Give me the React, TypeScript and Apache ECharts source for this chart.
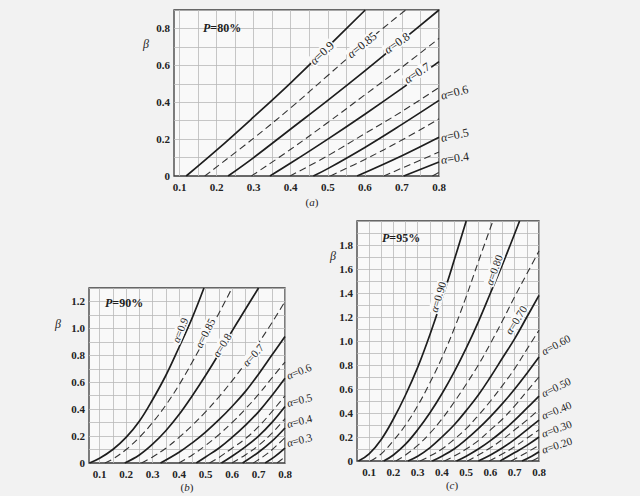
import React, { useEffect, useRef } from "react";
import * as echarts from "echarts";

// ---------- tick / grid values ----------
const xTickLabels = [0.1, 0.2, 0.3, 0.4, 0.5, 0.6, 0.7, 0.8];
const xGridValues = [0.1, 0.15, 0.2, 0.25, 0.3, 0.35, 0.4, 0.45, 0.5, 0.55, 0.6, 0.65, 0.7, 0.75, 0.8];
const yTickLabelsA = [0, 0.2, 0.4, 0.6, 0.8];
const yGridA = [0.1, 0.2, 0.3, 0.4, 0.5, 0.6, 0.7, 0.8, 0.9];
const yTickLabelsB = [0, 0.2, 0.4, 0.6, 0.8, 1.0, 1.2];
const yGridB = [0.1, 0.2, 0.3, 0.4, 0.5, 0.6, 0.7, 0.8, 0.9, 1.0, 1.1, 1.2, 1.3];
const yTickLabelsC = [0, 0.2, 0.4, 0.6, 0.8, 1.0, 1.2, 1.4, 1.6, 1.8];
const yGridC = [0.1, 0.2, 0.3, 0.4, 0.5, 0.6, 0.7, 0.8, 0.9, 1.0, 1.1, 1.2, 1.3, 1.4, 1.5, 1.6, 1.7, 1.8, 1.9, 2.0];

// ---------- (a) P = 80% ----------
const alphasA = [0.9, 0.85, 0.8, 0.75, 0.7, 0.65, 0.6, 0.55, 0.5, 0.45, 0.4, 0.35];
const curvesA = [
  [[0.118, 0], [0.2, 0.14], [0.3, 0.32], [0.4, 0.505], [0.5, 0.7], [0.601, 0.9]],
  [[0.168, 0], [0.3, 0.205], [0.4, 0.37], [0.5, 0.545], [0.6, 0.72], [0.71, 0.9]],
  [[0.231, 0], [0.3, 0.1], [0.4, 0.255], [0.5, 0.41], [0.6, 0.57], [0.7, 0.735], [0.8, 0.9]],
  [[0.294, 0], [0.4, 0.145], [0.5, 0.29], [0.6, 0.44], [0.7, 0.59], [0.8, 0.746]],
  [[0.344, 0], [0.4, 0.07], [0.5, 0.2], [0.6, 0.335], [0.7, 0.475], [0.8, 0.62]],
  [[0.398, 0], [0.5, 0.11], [0.6, 0.23], [0.7, 0.35], [0.8, 0.48]],
  [[0.461, 0], [0.5, 0.04], [0.6, 0.155], [0.7, 0.28], [0.8, 0.41]],
  [[0.507, 0], [0.6, 0.09], [0.7, 0.195], [0.8, 0.31]],
  [[0.579, 0], [0.7, 0.11], [0.8, 0.21]],
  [[0.651, 0], [0.72, 0.06], [0.8, 0.13]],
  [[0.705, 0], [0.8, 0.076]],
  [[0.782, 0], [0.8, 0.02]],
];

// ---------- (b) P = 90% ----------
const alphasB = [0.9, 0.85, 0.8, 0.75, 0.7, 0.65, 0.6, 0.55, 0.5, 0.45, 0.4, 0.35, 0.3, 0.25];
const curvesB = [
  [[0.062, 0], [0.1, 0.035], [0.15, 0.1], [0.2, 0.19], [0.25, 0.31], [0.3, 0.47], [0.35, 0.65], [0.4, 0.86], [0.45, 1.08], [0.494, 1.3]],
  [[0.12, 0], [0.15, 0.03], [0.2, 0.1], [0.25, 0.19], [0.3, 0.3], [0.35, 0.43], [0.4, 0.58], [0.45, 0.75], [0.5, 0.93], [0.55, 1.11], [0.6, 1.3]],
  [[0.195, 0], [0.25, 0.06], [0.3, 0.14], [0.35, 0.24], [0.4, 0.36], [0.45, 0.5], [0.5, 0.65], [0.55, 0.81], [0.6, 0.98], [0.65, 1.14], [0.7, 1.3]],
  [[0.258, 0], [0.3, 0.045], [0.35, 0.11], [0.4, 0.19], [0.45, 0.28], [0.5, 0.38], [0.55, 0.49], [0.6, 0.61], [0.65, 0.74], [0.7, 0.89], [0.75, 1.04], [0.8, 1.2]],
  [[0.33, 0], [0.4, 0.08], [0.45, 0.15], [0.5, 0.23], [0.55, 0.32], [0.6, 0.42], [0.65, 0.53], [0.7, 0.66], [0.75, 0.8], [0.8, 0.94]],
  [[0.4, 0], [0.45, 0.06], [0.5, 0.13], [0.55, 0.21], [0.6, 0.3], [0.65, 0.4], [0.7, 0.51], [0.75, 0.63], [0.8, 0.75]],
  [[0.465, 0], [0.5, 0.045], [0.55, 0.11], [0.6, 0.19], [0.65, 0.28], [0.7, 0.38], [0.75, 0.5], [0.8, 0.63]],
  [[0.515, 0], [0.55, 0.04], [0.6, 0.11], [0.65, 0.18], [0.7, 0.27], [0.75, 0.38], [0.8, 0.5]],
  [[0.56, 0], [0.6, 0.05], [0.65, 0.12], [0.7, 0.2], [0.75, 0.3], [0.8, 0.42]],
  [[0.6, 0], [0.65, 0.06], [0.7, 0.13], [0.75, 0.22], [0.8, 0.33]],
  [[0.64, 0], [0.7, 0.08], [0.75, 0.16], [0.8, 0.26]],
  [[0.68, 0], [0.74, 0.08], [0.8, 0.19]],
  [[0.725, 0], [0.76, 0.045], [0.8, 0.11]],
  [[0.77, 0], [0.8, 0.045]],
];

// ---------- (c) P = 95% ----------
const alphasC = [0.9, 0.85, 0.8, 0.75, 0.7, 0.65, 0.6, 0.55, 0.5, 0.45, 0.4, 0.35, 0.3, 0.25, 0.2, 0.15];
const curvesC = [
  [[0.056, 0], [0.1, 0.06], [0.15, 0.18], [0.2, 0.35], [0.25, 0.55], [0.3, 0.78], [0.35, 1.05], [0.4, 1.35], [0.45, 1.67], [0.5, 2.0]],
  [[0.105, 0], [0.15, 0.06], [0.2, 0.17], [0.25, 0.3], [0.3, 0.46], [0.35, 0.65], [0.4, 0.86], [0.45, 1.1], [0.5, 1.37], [0.55, 1.66], [0.61, 2.0]],
  [[0.16, 0], [0.2, 0.05], [0.25, 0.14], [0.3, 0.26], [0.35, 0.4], [0.4, 0.56], [0.45, 0.74], [0.5, 0.94], [0.55, 1.16], [0.6, 1.4], [0.65, 1.64], [0.72, 2.0]],
  [[0.21, 0], [0.25, 0.05], [0.3, 0.13], [0.35, 0.23], [0.4, 0.35], [0.45, 0.49], [0.5, 0.64], [0.55, 0.8], [0.6, 0.98], [0.65, 1.17], [0.7, 1.37], [0.75, 1.56], [0.8, 1.75]],
  [[0.26, 0], [0.3, 0.04], [0.35, 0.11], [0.4, 0.2], [0.45, 0.3], [0.5, 0.42], [0.55, 0.55], [0.6, 0.7], [0.65, 0.86], [0.7, 1.02], [0.75, 1.2], [0.8, 1.38]],
  [[0.31, 0], [0.35, 0.04], [0.4, 0.1], [0.45, 0.18], [0.5, 0.27], [0.55, 0.38], [0.6, 0.5], [0.65, 0.63], [0.7, 0.77], [0.75, 0.93], [0.8, 1.09]],
  [[0.36, 0], [0.4, 0.04], [0.45, 0.1], [0.5, 0.18], [0.55, 0.27], [0.6, 0.37], [0.65, 0.48], [0.7, 0.6], [0.75, 0.73], [0.8, 0.866]],
  [[0.41, 0], [0.45, 0.04], [0.5, 0.1], [0.55, 0.17], [0.6, 0.26], [0.65, 0.35], [0.7, 0.46], [0.75, 0.58], [0.8, 0.7]],
  [[0.46, 0], [0.5, 0.04], [0.55, 0.1], [0.6, 0.17], [0.65, 0.25], [0.7, 0.34], [0.75, 0.44], [0.8, 0.54]],
  [[0.505, 0], [0.55, 0.05], [0.6, 0.11], [0.65, 0.18], [0.7, 0.26], [0.75, 0.34], [0.8, 0.43]],
  [[0.55, 0], [0.6, 0.05], [0.65, 0.11], [0.7, 0.18], [0.75, 0.26], [0.8, 0.34]],
  [[0.595, 0], [0.65, 0.06], [0.7, 0.12], [0.75, 0.19], [0.8, 0.26]],
  [[0.64, 0], [0.7, 0.07], [0.75, 0.13], [0.8, 0.2]],
  [[0.685, 0], [0.74, 0.06], [0.8, 0.13]],
  [[0.73, 0], [0.77, 0.04], [0.8, 0.077]],
  [[0.77, 0], [0.8, 0.03]],
];

const SERIF = '"Liberation Serif", "DejaVu Serif", "Times New Roman", serif';
const INK = "#1e1e1e";
const PLOT_BG = "#f9f9f9";

const charts = [
  { alphas: alphasA, curves: curvesA, xMin: 0.085, yMax: 0.9, yLabels: yTickLabelsA, yGrid: yGridA,
    grid: { left: 174, top: 10, width: 265, height: 166 } },
  { alphas: alphasB, curves: curvesB, xMin: 0.06, yMax: 1.3, yLabels: yTickLabelsB, yGrid: yGridB,
    grid: { left: 89, top: 288, width: 196, height: 175 } },
  { alphas: alphasC, curves: curvesC, xMin: 0.05, yMax: 2.0, yLabels: yTickLabelsC, yGrid: yGridC,
    grid: { left: 357, top: 221, width: 182, height: 240 } },
];

const fmt = (v: number) => (v === 0 ? "0" : v.toFixed(1));

function alphaText(a: number, digits: number) {
  return "{i|α}=" + a.toFixed(digits);
}

function textEl(x: number, y: number, text: string, size: number, rotDeg: number, align: string, bg?: string, weight = "normal") {
  return {
    type: "text",
    x, y,
    rotation: (rotDeg * Math.PI) / 180,
    z: 100,
    silent: true,
    style: {
      text,
      fontFamily: SERIF,
      fontSize: size,
      fontWeight: weight,
      fill: INK,
      align,
      verticalAlign: "middle",
      backgroundColor: bg,
      padding: bg ? [0, 1] : 0,
      rich: {
        i: { fontFamily: SERIF, fontSize: size, fontStyle: "italic", fontWeight: weight, fill: INK },
      },
    },
  };
}

export default function App() {
  const ref = useRef<HTMLDivElement>(null);
  useEffect(() => {
    if (!ref.current) return;
    const chart = echarts.init(ref.current, undefined, { renderer: "svg" });

    const grids = charts.map((c) => ({
      ...c.grid,
      show: true,
      backgroundColor: PLOT_BG,
      borderColor: "#3a3a3a",
      borderWidth: 1.3,
      containLabel: false,
    }));

    const labelStyle = { fontFamily: SERIF, fontSize: 11, fontWeight: "bold", color: "#222" };

    const xAxes = charts.map((c, k) => ({
      type: "value",
      gridIndex: k,
      min: c.xMin,
      max: 0.8,
      axisLine: { show: false },
      axisTick: { show: false, customValues: xGridValues },
      axisLabel: { ...labelStyle, customValues: xTickLabels, formatter: fmt, margin: 5 },
      splitLine: { show: true, lineStyle: { color: "#b9b9b9", width: 0.8 } },
    }));
    const yAxes = charts.map((c, k) => ({
      type: "value",
      gridIndex: k,
      min: 0,
      max: c.yMax,
      axisLine: { show: false },
      axisTick: { show: false, customValues: c.yGrid },
      axisLabel: { ...labelStyle, customValues: c.yLabels, formatter: fmt, margin: 4 },
      splitLine: { show: true, lineStyle: { color: "#b9b9b9", width: 0.8 } },
    }));

    const series: any[] = [];
    charts.forEach((c, k) => {
      c.curves.forEach((pts, i) => {
        const solid = i % 2 === 0;
        series.push({
          type: "line",
          name: "α=" + c.alphas[i],
          xAxisIndex: k,
          yAxisIndex: k,
          data: pts,
          symbol: "none",
          smooth: 0.4,
          silent: true,
          clip: true,
          z: 3,
          lineStyle: solid
            ? { color: INK, width: 1.7, type: "solid" }
            : { color: "#333", width: 1.1, type: [7, 4] },
        });
      });
    });

    const graphic: any[] = [
      // titles
      textEl(203, 28, "{i|P}=80%", 12, 0, "left", undefined, "bold"),
      textEl(105, 303, "{i|P}=90%", 12, 0, "left", undefined, "bold"),
      textEl(382, 238, "{i|P}=95%", 12, 0, "left", undefined, "bold"),
      // beta
      textEl(146, 44, "{i|β}", 12, 0, "center"),
      textEl(58, 324, "{i|β}", 12, 0, "center"),
      textEl(333, 256, "{i|β}", 12, 0, "center"),
      // sub-figure labels
      textEl(312, 202, "({i|a})", 11, 0, "center"),
      textEl(187, 487, "({i|b})", 11, 0, "center"),
      textEl(452, 485, "({i|c})", 11, 0, "center"),
      // (a) inline labels
      textEl(322, 53, alphaText(alphasA[0], 1), 12, 43, "center", PLOT_BG),
      textEl(362, 45, alphaText(alphasA[1], 2), 12, 39, "center", PLOT_BG),
      textEl(397, 43, alphaText(alphasA[2], 1), 12, 35, "center", PLOT_BG),
      textEl(417, 73, alphaText(alphasA[4], 1), 12, 33, "center", PLOT_BG),
      // (a) right labels
      textEl(441, 96, alphaText(alphasA[6], 1), 12, 15, "left"),
      textEl(441, 138, alphaText(alphasA[8], 1), 12, 12, "left"),
      textEl(441, 160, alphaText(alphasA[10], 1), 12, 8, "left"),
      // (b) inline labels
      textEl(180, 330, alphaText(alphasB[0], 1), 11, 68, "center", PLOT_BG),
      textEl(205, 333, alphaText(alphasB[1], 2), 11, 63, "center", PLOT_BG),
      textEl(222, 345, alphaText(alphasB[2], 1), 11, 58, "center", PLOT_BG),
      textEl(253, 355, alphaText(alphasB[4], 1), 11, 48, "center", PLOT_BG),
      // (b) right labels
      textEl(287, 376, alphaText(alphasB[6], 1), 11, 22, "left"),
      textEl(287, 403, alphaText(alphasB[8], 1), 11, 14, "left"),
      textEl(287, 424, alphaText(alphasB[10], 1), 11, 14, "left"),
      textEl(287, 443, alphaText(alphasB[12], 1), 11, 14, "left"),
      // (c) inline labels
      textEl(438, 297, alphaText(alphasC[0], 2), 11, 73, "center", PLOT_BG),
      textEl(494, 270, alphaText(alphasC[2], 2), 11, 70, "center", PLOT_BG),
      textEl(516, 320, alphaText(alphasC[4], 2), 11, 58, "center", PLOT_BG),
      // (c) right labels
      textEl(542, 352, alphaText(alphasC[6], 2), 11, 28, "left"),
      textEl(542, 394, alphaText(alphasC[8], 2), 11, 26, "left"),
      textEl(542, 416, alphaText(alphasC[10], 2), 11, 22, "left"),
      textEl(542, 434, alphaText(alphasC[12], 2), 11, 20, "left"),
      textEl(542, 450, alphaText(alphasC[14], 2), 11, 18, "left"),
    ];

    chart.setOption({
      animation: false,
      backgroundColor: "#f2f2f2",
      grid: grids,
      xAxis: xAxes,
      yAxis: yAxes,
      series,
      graphic,
    });
    return () => chart.dispose();
  }, []);

  return (
    <div
      ref={ref}
      style={{ position: "absolute", left: 0, top: 0, width: 640, height: 496 }}
    />
  );
}
